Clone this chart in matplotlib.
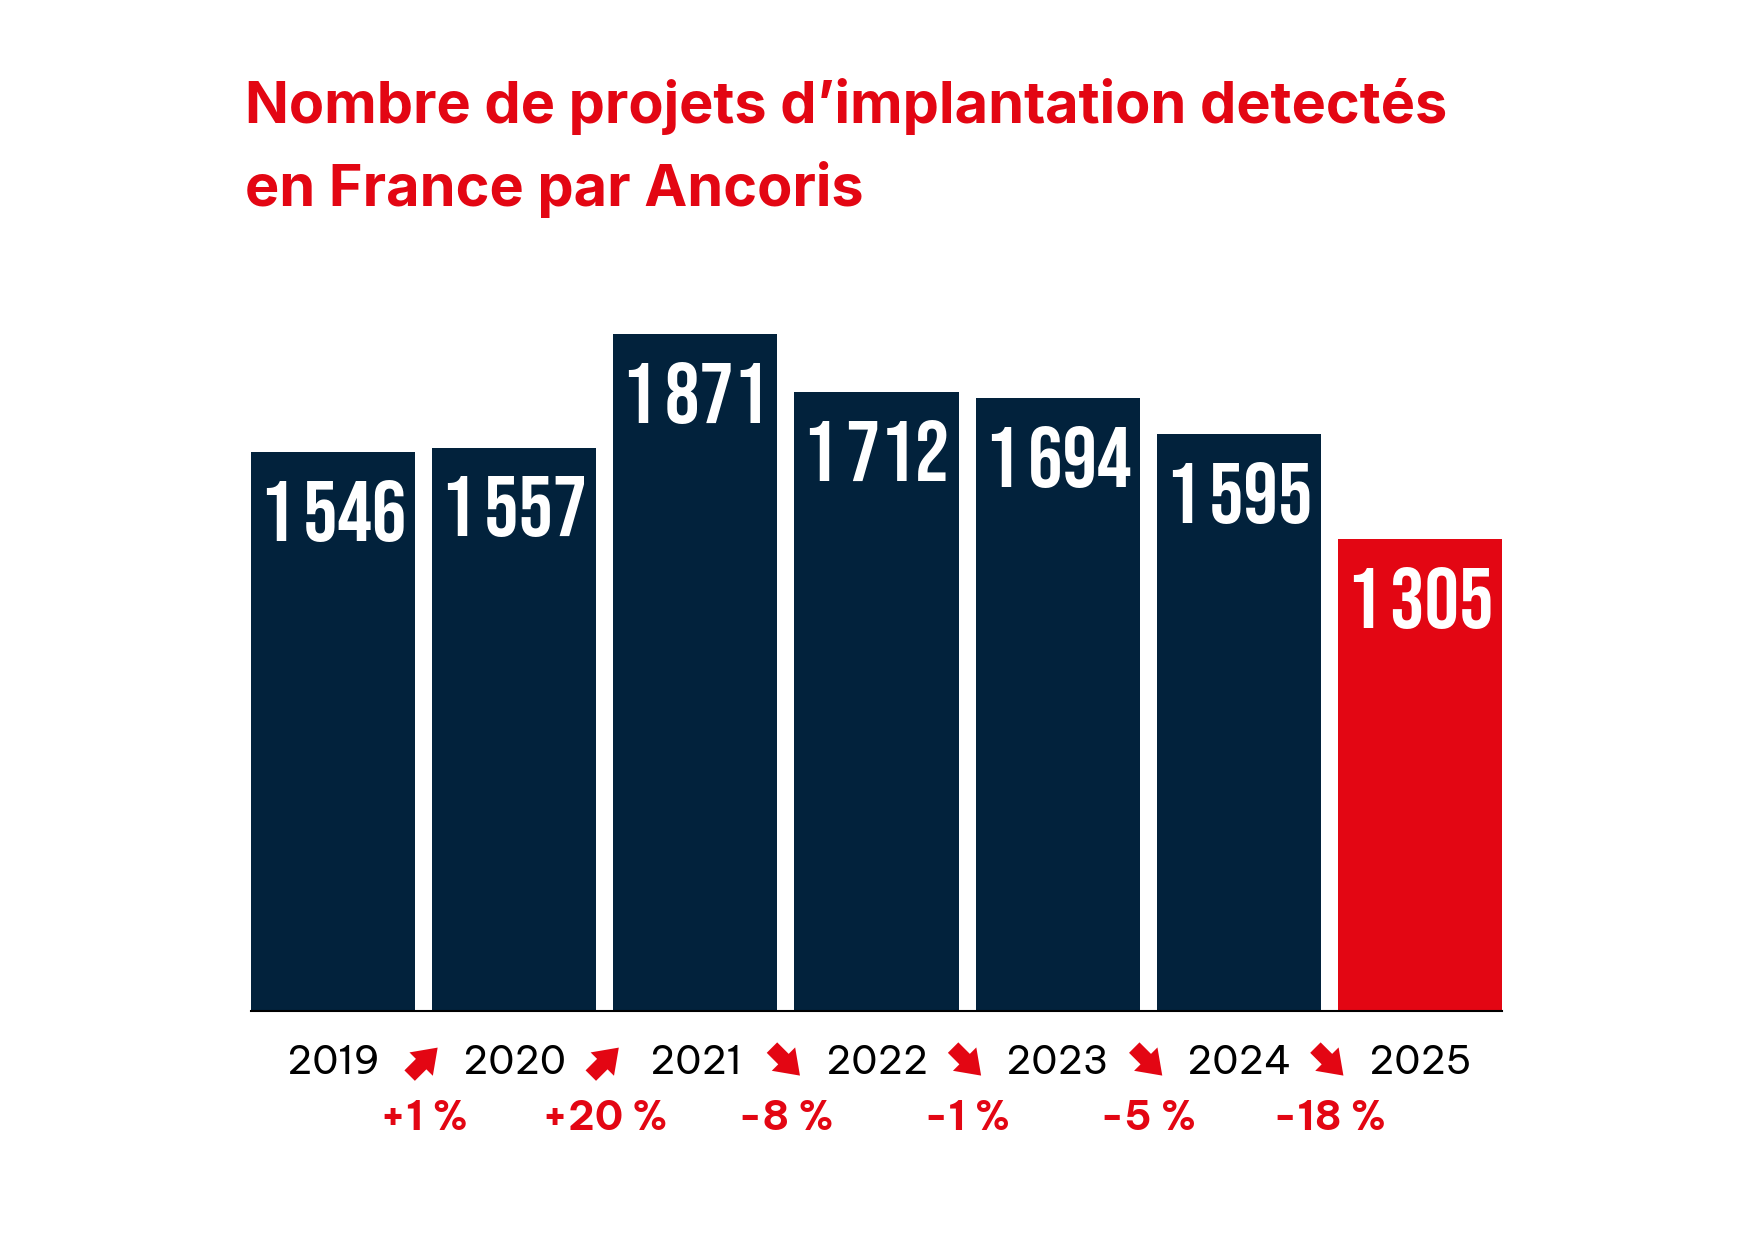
import numpy as np
import matplotlib
matplotlib.use("Agg")
import matplotlib.pyplot as plt
from matplotlib.transforms import blended_transform_factory, offset_copy

years = ["2019", "2020", "2021", "2022", "2023", "2024", "2025"]
values = [1546, 1557, 1871, 1712, 1694, 1595, 1305]
value_labels = ["1\u200a546", "1\u200a557", "1\u200a871", "1\u200a712", "1\u200a694", "1\u200a595", "1\u200a305"]
changes = ["+1 %", "+20 %", "-8 %", "-1 %", "-5 %", "-18 %"]
up = [True, True, False, False, False, False]

navy = "#02223C"
red = "#E30613"
colors = [navy] * 6 + [red]

fig = plt.figure(figsize=(17.48, 12.40), dpi=100)
ax = fig.add_axes([0.1436, 0.1847, 0.7157, 0.5833])

x = np.arange(len(years))
ax.bar(x, values, width=0.906, color=colors)
ax.set_xlim(-0.453, 6.453)
ax.set_ylim(0, 2000)
for s in ["top", "left", "right"]:
    ax.spines[s].set_visible(False)
ax.spines["bottom"].set_color("black")
ax.spines["bottom"].set_linewidth(1.5)
ax.set_xticks([])
ax.set_yticks([])

# valeurs dans les barres
num_font = ["Bebas Neue", "DejaVu Sans"]
for xi, v, lab in zip(x, values, value_labels):
    ax.annotate(lab, (xi, v), xytext=(0, -20), textcoords="offset points",
                ha="center", va="top", color="white", fontsize=62,
                family=num_font)

tr = blended_transform_factory(ax.transData, ax.transAxes)
for xi, y in zip(x, years):
    ax.text(xi, -0.073, y, transform=tr, ha="center", va="center",
            fontsize=28, color="black", family="Be Vietnam Pro")

for i, (c, u) in enumerate(zip(changes, up)):
    sgn = 1 if u else -1
    head = offset_copy(tr, fig=fig, x=14, y=14 * sgn, units="dots")
    ax.annotate("", xy=(i + 0.5, -0.070), xycoords=head,
                xytext=(-28, -28 * sgn), textcoords="offset pixels",
                arrowprops=dict(arrowstyle="simple,head_length=0.6,head_width=0.85,tail_width=0.38",
                                mutation_scale=28, color=red, shrinkA=0, shrinkB=0, lw=0))
    ax.text(i + 0.5, -0.148, c, transform=tr, ha="center", va="center",
            fontsize=29, color=red, fontweight="bold", family="Be Vietnam Pro")

fig.text(0.140, 0.901, "Nombre de projets d\u2019implantation detect\u00e9s",
         fontsize=41.5, fontweight="bold", color=red, family="Inter", va="baseline")
fig.text(0.140, 0.834, "en France par Ancoris",
         fontsize=41.5, fontweight="bold", color=red, family="Inter", va="baseline")

fig.savefig("out.png", dpi=100)
